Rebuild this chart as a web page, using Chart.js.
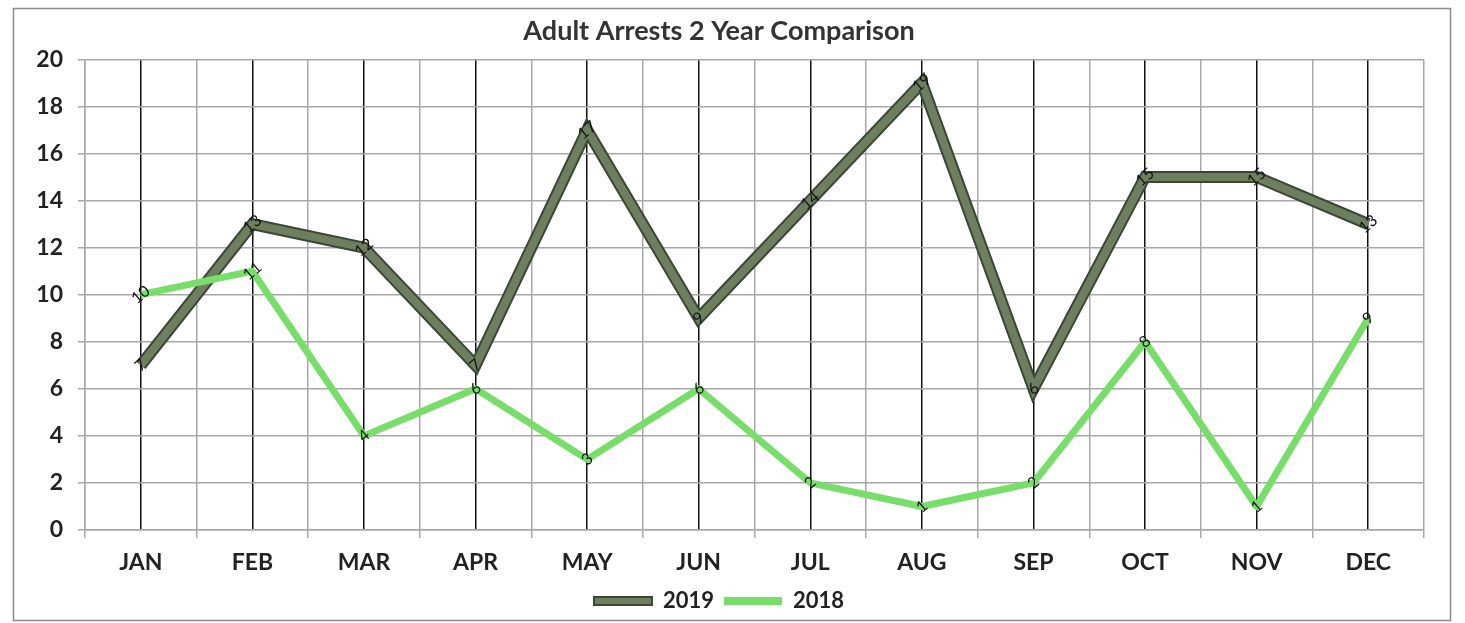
<!DOCTYPE html>
<html>
<head>
<meta charset="utf-8">
<script src="https://cdn.jsdelivr.net/npm/chart.js@4.4.1/dist/chart.umd.min.js"></script>
<style>
  html, body { margin: 0; padding: 0; background: #fff; }
  #wrap { width: 1465px; height: 623px; position: relative; }
</style>
</head>
<body>
<div id="wrap"><canvas id="c" width="1465" height="623"></canvas></div>
<script>
const months = ['JAN','FEB','MAR','APR','MAY','JUN','JUL','AUG','SEP','OCT','NOV','DEC'];
const arrests2019 = [7, 13, 12, 7, 17, 9, 14, 19, 6, 15, 15, 13];
const arrests2018 = [10, 11, 4, 6, 3, 6, 2, 1, 2, 8, 1, 9];
const yTicks = [0, 2, 4, 6, 8, 10, 12, 14, 16, 18, 20];

const FONT = 'Lato, "Open Sans", sans-serif';
const C2019 = '#6d7f5f';
const C2019_EDGE = '#3b4637';
const C2018 = '#78de6a';

const borderPlugin = {
  id: 'outerBorder',
  beforeDraw(chart) {
    const ctx = chart.ctx;
    ctx.save();
    ctx.fillStyle = '#fff';
    ctx.fillRect(0, 0, chart.width, chart.height);
    ctx.strokeStyle = '#8a8a8a';
    ctx.lineWidth = 1.5;
    ctx.strokeRect(13.5, 8.5, 1437, 612);
    ctx.restore();
  }
};

const labelPlugin = {
  id: 'pointLabels',
  afterDatasetsDraw(chart) {
    const ctx = chart.ctx;
    ctx.save();
    ctx.font = '16px ' + FONT;
    ctx.fillStyle = '#111';
    ctx.textAlign = 'center';
    ctx.textBaseline = 'middle';
    chart.data.datasets.forEach((ds, i) => {
      if (!ds.showValues) return;
      const meta = chart.getDatasetMeta(i);
      meta.data.forEach((pt, j) => {
        ctx.save();
        ctx.translate(pt.x, pt.y);
        ctx.rotate(-40 * Math.PI / 180);
        ctx.fillText(String(ds.data[j]), 0, 0);
        ctx.restore();
      });
    });
    ctx.restore();
  }
};

new Chart(document.getElementById('c'), {
  type: 'line',
  data: {
    labels: months,
    datasets: [
      { label: '2019edge', data: arrests2019, borderColor: C2019_EDGE, borderWidth: 12,
        pointRadius: 0, tension: 0, borderJoinStyle: 'miter', order: 3 },
      { label: '2019', data: arrests2019, borderColor: C2019, backgroundColor: C2019, borderWidth: 8,
        pointRadius: 0, tension: 0, borderJoinStyle: 'miter', showValues: true, order: 2 },
      { label: '2018', data: arrests2018, borderColor: C2018, backgroundColor: C2018, borderWidth: 7,
        pointRadius: 0, tension: 0, borderJoinStyle: 'round', showValues: true, order: 1 }
    ]
  },
  options: {
    responsive: false,
    animation: false,
    devicePixelRatio: 1,
    layout: { padding: { left: 14, right: 41, top: 10, bottom: 1 } },
    plugins: {
      title: {
        display: true,
        text: 'Adult Arrests 2 Year Comparison',
        color: '#333',
        font: { family: FONT, size: 27, weight: 'bold' },
        padding: { top: 5, bottom: 12 }
      },
      legend: {
        position: 'bottom',
        labels: {
          color: '#222',
          font: { family: FONT, size: 22, weight: 'bold' },
          boxWidth: 58,
          boxHeight: 8,
          padding: 10,
          generateLabels(chart) {
            return [
              { text: '2019', fillStyle: C2019, strokeStyle: C2019_EDGE, lineWidth: 2, datasetIndex: 1, fontColor: '#222' },
              { text: '2018', fillStyle: C2018, strokeStyle: C2018, lineWidth: 0, datasetIndex: 2, fontColor: '#222' }
            ];
          }
        }
      },
      tooltip: { enabled: false }
    },
    scales: {
      x: {
        offset: true,
        grid: { offset: true, color: '#a8a8a8', lineWidth: 1.5, tickLength: 8 },
        border: { display: true, color: '#a8a8a8', width: 1.5 },
        ticks: { color: '#222', font: { family: FONT, size: 23, weight: 'bold' }, padding: 11, maxRotation: 0 },
        afterFit(s) { s.height = 50; }
      },
      x2: {
        axis: 'x',
        type: 'category',
        position: 'bottom',
        offset: true,
        display: true,
        grid: { offset: false, color: '#111', lineWidth: 1.5, drawTicks: false },
        border: { display: false },
        ticks: { display: false },
        afterFit(s) { s.height = 0; }
      },
      y: {
        min: 0, max: 20,
        afterBuildTicks(s) { s.ticks = yTicks.map(v => ({ value: v })); },
        grid: { color: '#a8a8a8', lineWidth: 1.5, tickLength: 7 },
        border: { display: true, color: '#a8a8a8', width: 1.5 },
        ticks: { color: '#222', font: { family: FONT, size: 23, weight: 'bold' }, padding: 15 },
        afterFit(s) { s.width = 71; }
      }
    }
  },
  plugins: [borderPlugin, labelPlugin]
});
</script>
</body>
</html>
